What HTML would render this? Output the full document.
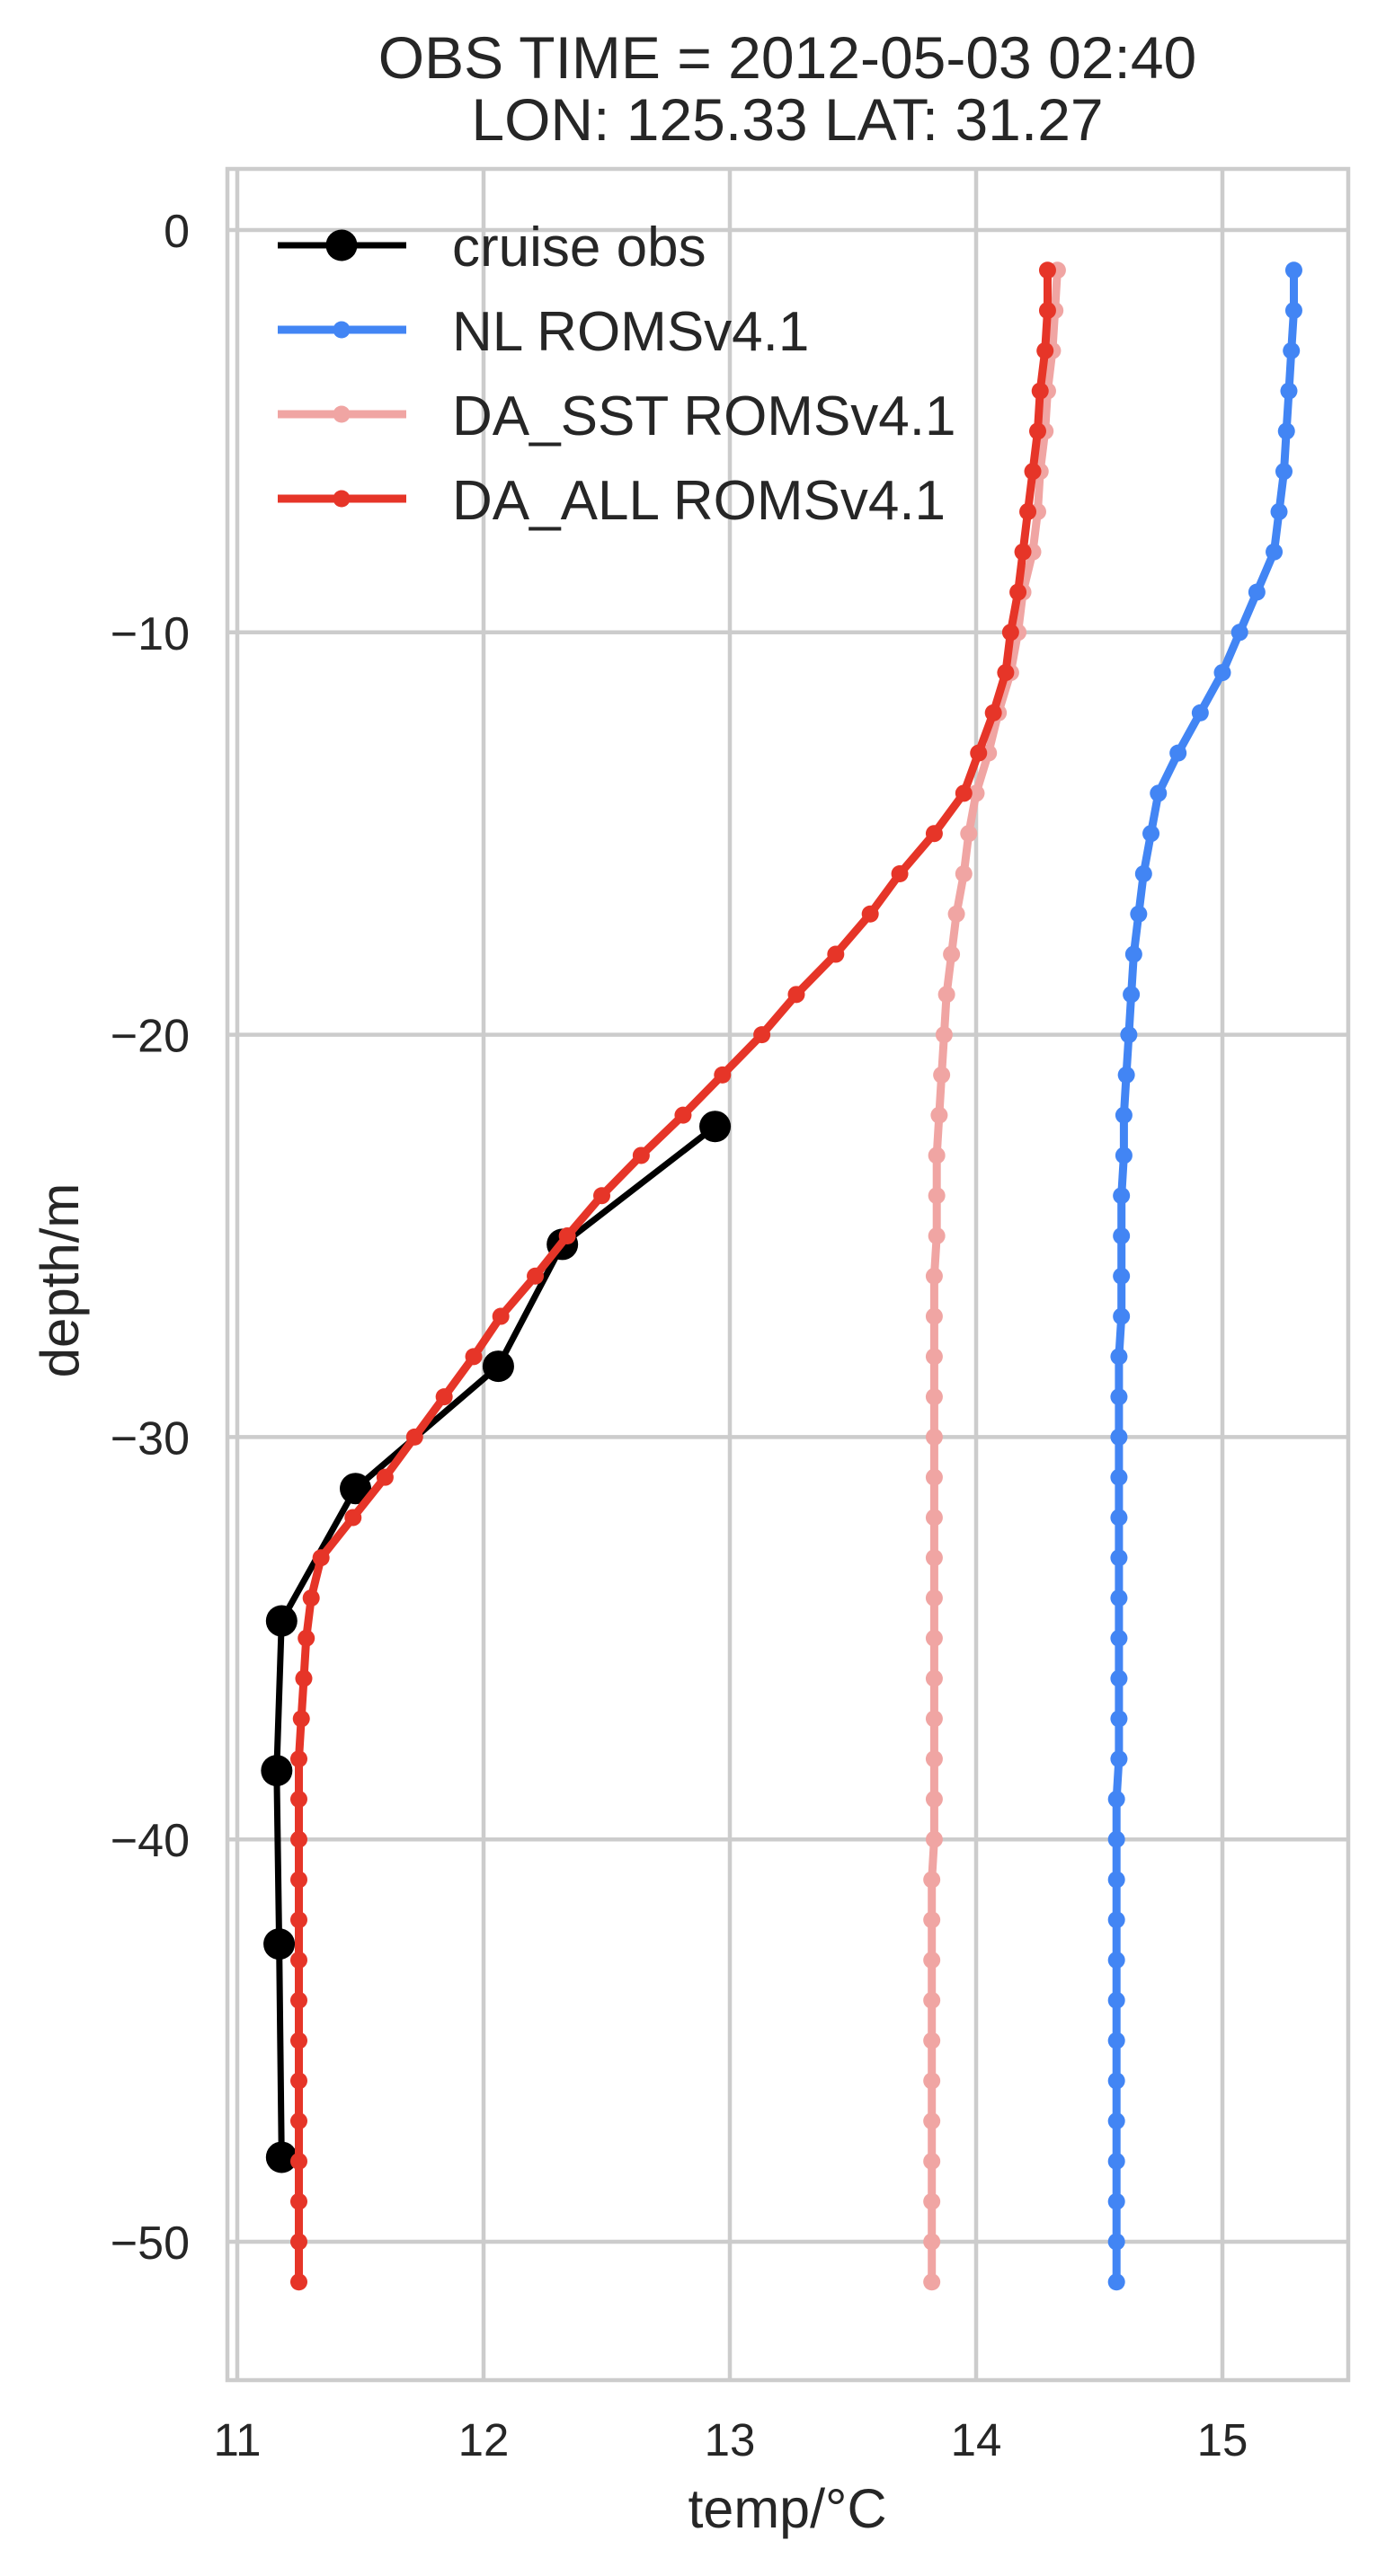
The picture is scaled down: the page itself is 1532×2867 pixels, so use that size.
<!DOCTYPE html>
<html>
<head>
<meta charset="utf-8">
<style>
html,body{margin:0;padding:0;background:#fff;}
svg{display:block;}
text{font-family:"Liberation Sans",Arial,sans-serif;fill:#262626;}
</style>
</head>
<body>
<svg id="chart" width="1532" height="2867" viewBox="0 0 1532 2867" xmlns="http://www.w3.org/2000/svg">
  <rect x="0" y="0" width="1532" height="2867" fill="#fff"/>
  <text x="876" y="87" font-size="66" text-anchor="middle">OBS TIME = 2012-05-03 02:40</text>
  <text x="876" y="156" font-size="66" text-anchor="middle">LON: 125.33 LAT: 31.27</text>
  <g id="grid"></g>
  <g id="series"></g>
  <g id="ticks"></g>
  <text x="876" y="2813" font-size="61" text-anchor="middle">temp/°C</text>
  <text x="0" y="0" font-size="60" text-anchor="middle" transform="translate(87,1425) rotate(-90)">depth/m</text>
  <g id="legend"></g>
</svg>
<script>
// ---- data ----
const modelDepths = [-1,-2,-3,-4,-5,-6,-7,-8,-9,-10,-11,-12,-13,-14,-15,-16,-17,-18,-19,-20,-21,-22,-23,-24,-25,-26,-27,-28,-29,-30,-31,-32,-33,-34,-35,-36,-37,-38,-39,-40,-41,-42,-43,-44,-45,-46,-47,-48,-49,-50,-51];
const nlTemp = [15.29,15.29,15.28,15.27,15.26,15.25,15.23,15.21,15.14,15.07,15.00,14.91,14.82,14.74,14.71,
  14.68,14.66,14.64,14.63,14.62,14.61,14.60,14.60,14.59,14.59,14.59,14.59,14.58,14.58,14.58,
  14.58,14.58,14.58,14.58,14.58,14.58,14.58,14.58,14.57,14.57,14.57,14.57,14.57,14.57,14.57,14.57,14.57,14.57,14.57,14.57,14.57];
const daSstTemp = [14.33,14.32,14.31,14.29,14.28,14.26,14.25,14.23,14.19,14.17,14.14,14.09,14.05,14.00,13.97,
  13.95,13.92,13.90,13.88,13.87,13.86,13.85,13.84,13.84,13.84,13.83,13.83,13.83,13.83,13.83,
  13.83,13.83,13.83,13.83,13.83,13.83,13.83,13.83,13.83,13.83,13.82,13.82,13.82,13.82,13.82,13.82,13.82,13.82,13.82,13.82,13.82];
const daAllTemp = [14.29,14.29,14.28,14.26,14.25,14.23,14.21,14.19,14.17,14.14,14.12,14.07,14.01,13.95,13.83,
  13.69,13.57,13.43,13.27,13.13,12.97,12.81,12.64,12.48,12.34,
  12.21,12.07,11.96,11.84,11.72,11.60,11.47,11.34,11.30,11.28,11.27,11.26,
  11.25,11.25,11.25,11.25,11.25,11.25,11.25,11.25,11.25,11.25,11.25,11.25,11.25,11.25];
const obsDepths = [-22.28,-25.21,-28.24,-31.28,-34.57,-38.29,-42.6,-47.9];
const obsTemp = [12.94,12.32,12.06,11.48,11.18,11.16,11.17,11.18];
const xTicks = [11,12,13,14,15];
const yTicks = [0,-10,-20,-30,-40,-50];
const legendLabels = ["cruise obs","NL ROMSv4.1","DA_SST ROMSv4.1","DA_ALL ROMSv4.1"];

// ---- axes ----
const NS = "http://www.w3.org/2000/svg";
const AX = {left:253, right:1500, top:188, bottom:2649};
function xs(t){ return 264 + (t - 11) * 274; }
function ys(d){ return 256 + (0 - d) * 44.78; }
function mk(tag, attrs, parent){ const e = document.createElementNS(NS, tag); for (const k in attrs) e.setAttribute(k, attrs[k]); parent.appendChild(e); return e; }

const grid = document.getElementById('grid');
const ticks = document.getElementById('ticks');
const GRID = "#cccccc";
xTicks.forEach(t => {
  const l = mk('line', {x1:xs(t), x2:xs(t), y1:AX.top, y2:AX.bottom, stroke:GRID, 'stroke-width':4.5}, grid);
  
  
  const tx = mk('text', {x:xs(t), y:2733, 'font-size':51, 'text-anchor':'middle'}, ticks);
  tx.textContent = String(t);
  
  
});
yTicks.forEach(d => {
  const l = mk('line', {x1:AX.left, x2:AX.right, y1:ys(d), y2:ys(d), stroke:GRID, 'stroke-width':4.5}, grid);
  
  
  const tx = mk('text', {x:211, y:ys(d)+19, 'font-size':52, 'text-anchor':'end'}, ticks);
  tx.textContent = d < 0 ? '\u2212' + Math.abs(d) : String(d);
  
  
});
const frame = mk('rect', {x:AX.left, y:AX.top, width:AX.right-AX.left, height:AX.bottom-AX.top, fill:'none', stroke:GRID, 'stroke-width':4.5}, grid);



// ---- series ----
const series = document.getElementById('series');
function drawSeries(temps, depths, color, lw, r, name){
  const g = mk('g', {}, series);
  
  
  const pts = temps.map((t,i) => xs(t).toFixed(1) + ',' + ys(depths[i]).toFixed(1)).join(' ');
  const pl = mk('polyline', {points:pts, fill:'none', stroke:color, 'stroke-width':lw, 'stroke-linejoin':'round', 'stroke-linecap':'round'}, g);
  
  
  temps.forEach((t,i) => {
    const c = mk('circle', {cx:xs(t), cy:ys(depths[i]), r:r, fill:color}, g);
    
    
  });
}
drawSeries(obsTemp, obsDepths, '#000000', 7, 17.5, 'cruise-obs');
drawSeries(nlTemp, modelDepths, '#4285f4', 9, 9.5, 'nl-roms');
drawSeries(daSstTemp, modelDepths, '#f0a5a3', 9, 9.5, 'da-sst-roms');
drawSeries(daAllTemp, modelDepths, '#e63528', 9, 9.5, 'da-all-roms');

// ---- legend ----
const legend = document.getElementById('legend');
const legColors = ['#000000','#4285f4','#f0a5a3','#e63528'];
const legR = [17.5, 9.5, 9.5, 9.5];
const legW = [7, 9, 9, 9];
legendLabels.forEach((lab, i) => {
  const cy = 273 + i * 94;
  const g = mk('g', {}, legend);
  
  
  mk('line', {x1:309, x2:452, y1:cy, y2:cy, stroke:legColors[i], 'stroke-width':legW[i]}, g);
  mk('circle', {cx:380, cy:cy, r:legR[i], fill:legColors[i]}, g);
  const tx = mk('text', {x:503, y:cy+23, 'font-size':62}, g);
  tx.textContent = lab;
  
  
});
</script>
</body>
</html>
